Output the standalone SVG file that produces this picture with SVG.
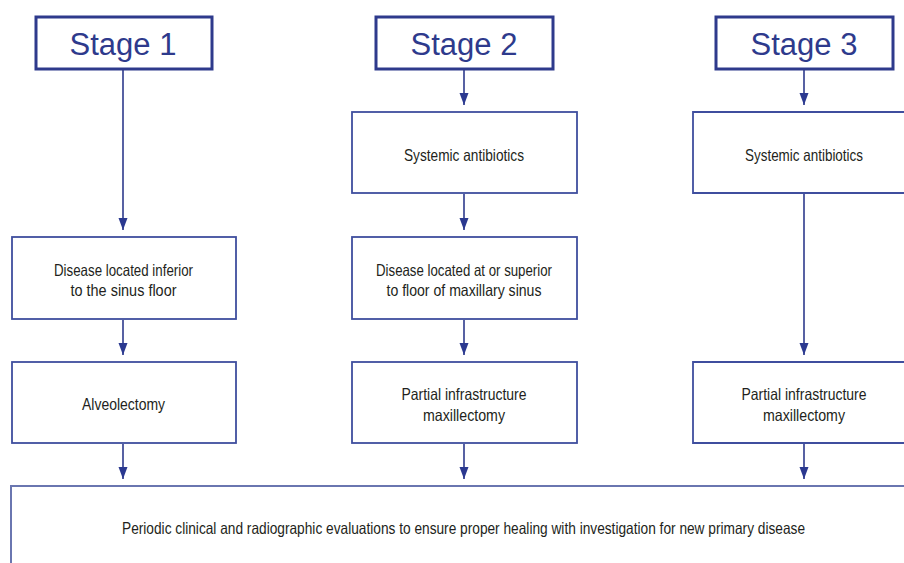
<svg xmlns="http://www.w3.org/2000/svg" width="904" height="563" viewBox="0 0 904 563">
<defs>
<style>
.stage{fill:#fff;stroke:#2e3a8c;stroke-width:3}
.box{fill:#fff;stroke:#3f4e9e;stroke-width:1.8}
.st{font-family:"Liberation Sans",Arial,sans-serif;font-size:31px;fill:#2e3a8c;text-anchor:middle}
.t{font-family:"Liberation Sans",Arial,sans-serif;font-size:16.5px;fill:#231f20;text-anchor:middle}
.c{stroke:#2e3a8c;stroke-width:1.6;fill:none;marker-end:url(#ah)}
</style>
<marker id="ah" markerUnits="userSpaceOnUse" markerWidth="13" markerHeight="10" refX="12" refY="4.5" orient="auto">
<path d="M0,0 L12,4.5 L0,9 z" fill="#2b3990"/>
</marker>
</defs>
<rect width="904" height="563" fill="#fff"/>
<g id="connectors">
<line class="c" x1="123" y1="70" x2="123" y2="230"/>
<line class="c" x1="123" y1="320" x2="123" y2="355"/>
<line class="c" x1="123" y1="444" x2="123" y2="479"/>
<line class="c" x1="464" y1="70" x2="464" y2="105"/>
<line class="c" x1="464" y1="194" x2="464" y2="230"/>
<line class="c" x1="464" y1="320" x2="464" y2="355"/>
<line class="c" x1="464" y1="444" x2="464" y2="479"/>
<line class="c" x1="804" y1="70" x2="804" y2="105"/>
<line class="c" x1="804" y1="194" x2="804" y2="355"/>
<line class="c" x1="804" y1="444" x2="804" y2="479"/>
</g>
<g id="stage1"><rect class="stage" x="36" y="17" width="176" height="52"/><text class="st" x="123" y="55">Stage 1</text></g>
<g id="stage2"><rect class="stage" x="376" y="17" width="177" height="52"/><text class="st" x="464" y="55">Stage 2</text></g>
<g id="stage3"><rect class="stage" x="716" y="17" width="177" height="52"/><text class="st" x="804" y="55">Stage 3</text></g>
<g id="antibiotics2"><rect class="box" x="352" y="112" width="225" height="81"/><text class="t" x="464" y="161" textLength="120" lengthAdjust="spacingAndGlyphs">Systemic antibiotics</text></g>
<g id="antibiotics3"><path class="box" d="M904,112 H693 V193 H904"/><text class="t" x="804" y="161" textLength="118" lengthAdjust="spacingAndGlyphs">Systemic antibiotics</text></g>
<g id="disease1"><rect class="box" x="12" y="237" width="224" height="82"/>
<text class="t" x="123.5" y="276" textLength="139" lengthAdjust="spacingAndGlyphs">Disease located inferior</text>
<text class="t" x="123.5" y="296" textLength="106" lengthAdjust="spacingAndGlyphs">to the sinus floor</text></g>
<g id="disease2"><rect class="box" x="352" y="237" width="225" height="82"/>
<text class="t" x="464" y="276" textLength="176" lengthAdjust="spacingAndGlyphs">Disease located at or superior</text>
<text class="t" x="464" y="296" textLength="155" lengthAdjust="spacingAndGlyphs">to floor of maxillary sinus</text></g>
<g id="alveolectomy"><rect class="box" x="12" y="362" width="224" height="81"/>
<text class="t" x="123.5" y="410" textLength="83" lengthAdjust="spacingAndGlyphs">Alveolectomy</text></g>
<g id="partial2"><rect class="box" x="352" y="362" width="225" height="81"/>
<text class="t" x="464" y="400" textLength="125" lengthAdjust="spacingAndGlyphs">Partial infrastructure</text>
<text class="t" x="464" y="421" textLength="82" lengthAdjust="spacingAndGlyphs">maxillectomy</text></g>
<g id="partial3"><path class="box" d="M904,362 H693 V443 H904"/>
<text class="t" x="804" y="400" textLength="125" lengthAdjust="spacingAndGlyphs">Partial infrastructure</text>
<text class="t" x="804" y="421" textLength="82" lengthAdjust="spacingAndGlyphs">maxillectomy</text></g>
<g id="followup"><path d="M11,563 V486 H904" fill="none" stroke="#6a76b0" stroke-width="2"/>
<text class="t" transform="translate(463.5,534) scale(0.75,1)" x="0" y="0" textLength="910.7" lengthAdjust="spacingAndGlyphs">Periodic clinical and radiographic evaluations to ensure proper healing with investigation for new primary disease</text></g>
</svg>
